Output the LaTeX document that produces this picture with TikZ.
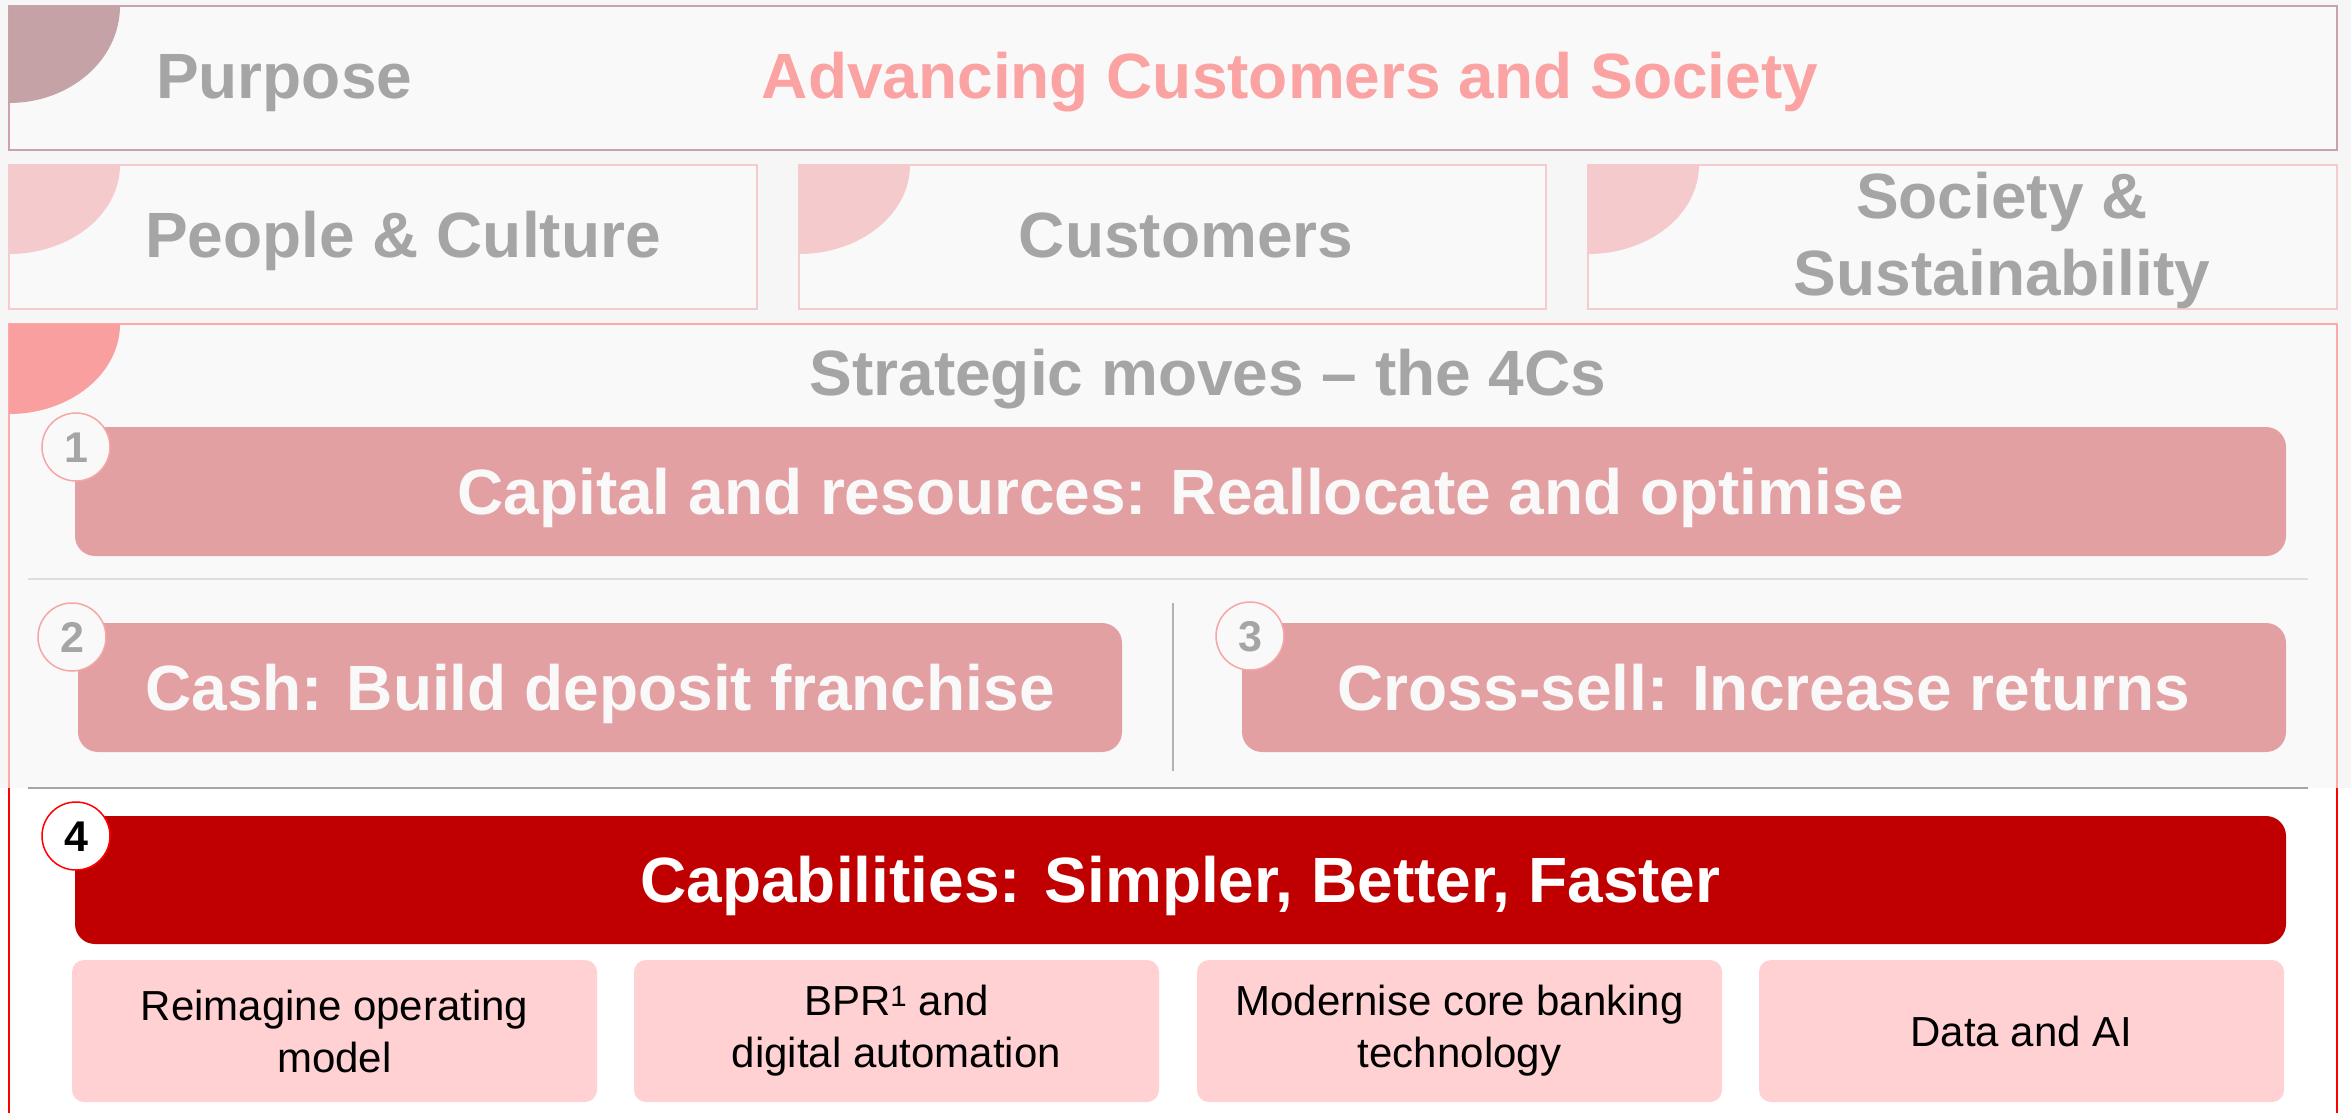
\documentclass[tikz,border=0pt]{standalone}
\usepackage{fontspec}
\setmainfont{Liberation Sans}
\definecolor{outergray}{HTML}{F6F6F6}
\definecolor{bggray}{HTML}{F9F9F9}
\definecolor{pbord}{HTML}{C9A3A7}
\definecolor{pquart}{HTML}{C4A2A6}
\definecolor{tgray}{HTML}{A5A5A5}
\definecolor{tpink}{HTML}{FBA3A3}
\definecolor{rbord}{HTML}{F6CBCD}
\definecolor{rquart}{HTML}{F4CACD}
\definecolor{cbord}{HTML}{FFAAAA}
\definecolor{cquart}{HTML}{FA9F9F}
\definecolor{cfill}{HTML}{E3A0A2}
\definecolor{circb}{HTML}{F7A6A6}
\definecolor{sepa}{HTML}{DDDDDD}
\definecolor{sepb}{HTML}{A6A6A6}
\definecolor{vdiv}{HTML}{B3B3B3}
\definecolor{dred}{HTML}{C00000}
\definecolor{bred}{HTML}{FF0000}
\definecolor{lpink}{HTML}{FFD1D3}
\tikzset{
  bigfont/.style={font=\fontsize{64}{78}\selectfont\bfseries},
  graytitle/.style={bigfont, text=tgray, align=center, inner sep=0pt},
  pillar/.style={draw=rbord, line width=1.5pt, fill=bggray, minimum height=144pt, inner sep=0pt, outer sep=0pt},
  movebox/.style={fill=cfill, rounded corners=20pt, minimum height=129pt, inner sep=0pt, text=bggray, bigfont, text height=45.8pt, text depth=0pt},
  numcirc/.style={circle, draw=circb, line width=1.5pt, fill=bggray, minimum size=68pt, inner sep=0pt, font=\fontsize{43}{43}\selectfont\bfseries, text=tgray, text height=31pt, text depth=0pt},
  capbox/.style={fill=lpink, rounded corners=12pt, minimum width=525pt, minimum height=142pt, inner sep=0pt, align=center, font=\fontsize{42}{52}\selectfont, text=black},
}
\begin{document}
\begin{tikzpicture}[x=1pt,y=-1pt]
\useasboundingbox (0,0) rectangle (2351,1112);
% backgrounds
\fill[outergray] (0,0) rectangle (2351,788);
\fill[white] (0,788) rectangle (2351,1112);
% Purpose band
\node[draw=pbord, line width=1.5pt, fill=bggray, minimum width=2328pt, minimum height=144pt, inner sep=0pt] (purposebox) at (1173,78) {};
\fill[pquart] (9,6) -- (120,6) .. controls (120,59.6) and (70.3,103) .. (9,103) -- cycle;
\node[graytitle, anchor=base west] (purpose) at (156,98) {Purpose};
\node[bigfont, text=tpink, inner sep=0pt, anchor=base] (advancing) at (1290,98) {Advancing Customers and Society};
% Pillars
\node[pillar, minimum width=748pt] (p1) at (383,237) {};
\node[pillar, minimum width=747pt] (p2) at (1172.5,237) {};
\node[pillar, minimum width=749pt] (p3) at (1962.5,237) {};
\fill[rquart] (9,165) -- (120,165) .. controls (120,214.2) and (70.3,254) .. (9,254) -- cycle;
\fill[rquart] (799,165) -- (910,165) .. controls (910,214.2) and (860.3,254) .. (799,254) -- cycle;
\fill[rquart] (1588,165) -- (1699,165) .. controls (1699,214.2) and (1649.3,254) .. (1588,254) -- cycle;
\node[graytitle, anchor=base] (people) at (403,257) {People \& Culture};
\node[graytitle, anchor=base] (customers) at (1186,257) {Customers};
\node[graytitle, anchor=base] (society1) at (2002,218) {Society \&};
\node[graytitle, anchor=base] (society2) at (2002,295) {Sustainability};
% 4Cs frame
\fill[bggray] (9,324) rectangle (2337,788);
\draw[cbord, line width=1.5pt] (9,788) -- (9,324) -- (2337,324) -- (2337,788);
\draw[bred, line width=1.2pt] (9,788) -- (9,1113);
\draw[bred, line width=1.2pt] (2337,788) -- (2337,1113);
\fill[cquart] (9,324) -- (120,324) .. controls (120,373.7) and (70.3,414) .. (9,414) -- cycle;
\node[graytitle, anchor=base] (strategic) at (1208,395) {Strategic moves \textendash{} the 4Cs};
% move 1
\node[movebox, minimum width=2211pt] (m1) at (1180.5,491.5) {Capital and resources: Reallocate and optimise};
\node[numcirc] (n1) at (76,447) {1};
\coordinate (s1a) at (28,579);
\coordinate (s1b) at (2308,579);
\draw[sepa, line width=1.5pt] (s1a) -- (s1b);
% moves 2 and 3
\node[movebox, minimum width=1044pt] (m2) at (600,687.5) {Cash: Build deposit franchise};
\node[movebox, minimum width=1044pt] (m3) at (1764,687.5) {Cross-sell: Increase returns};
\node[numcirc] (n2) at (72,637) {2};
\node[numcirc] (n3) at (1250,636) {3};
\coordinate (vda) at (1173,603);
\coordinate (vdb) at (1173,771);
\draw[vdiv, line width=1.5pt] (vda) -- (vdb);
\coordinate (s2a) at (28,788);
\coordinate (s2b) at (2308,788);
\draw[sepb, line width=1.5pt] (s2a) -- (s2b);
% move 4
\node[movebox, fill=dred, text=white, minimum width=2211pt, minimum height=128pt] (m4) at (1180.5,880) {Capabilities: Simpler, Better, Faster};
\node[numcirc, draw=bred, fill=white, text=black] (n4) at (76,836) {4};
% capabilities
\node[capbox] (c1) at (334.5,1031) {Reimagine operating\\model};
\node[capbox] (c2) at (896.5,1031) {BPR\textsuperscript{1} and\\digital automation};
\node[capbox] (c3) at (1459.5,1031) {Modernise core banking\\technology};
\node[capbox] (c4) at (2021.5,1031) {Data and AI};
\end{tikzpicture}
\end{document}
